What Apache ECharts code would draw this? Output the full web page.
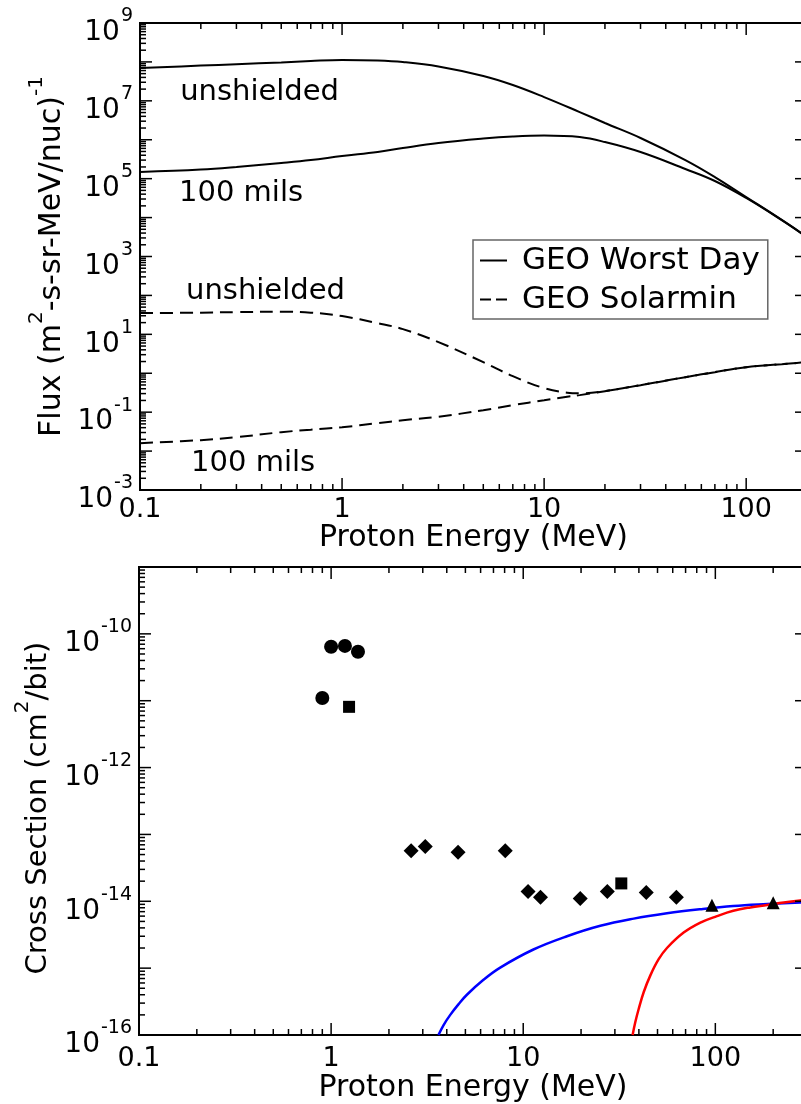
<!DOCTYPE html>
<html><head><meta charset="utf-8">
<script src="https://cdn.jsdelivr.net/npm/echarts@6/dist/echarts.min.js"></script>
<style>html,body{margin:0;padding:0;background:#fff}#c{width:801px;height:1104px}</style>
</head><body><div id="c"></div>
<script>
// ---------- Top panel: flux spectra ----------
const worstEnergy      = [0.1, 0.2, 0.3, 0.5, 0.7, 1, 1.5, 2, 3, 5, 7, 10, 15, 20, 30, 50, 70, 100, 150, 200];
const worstUnshielded  = [6.97e7, 8.04e7, 8.73e7, 9.7e7, 1.054e8, 1.12e8, 1.086e8, 9.93e7, 7.62e7, 4.35e7, 2.55e7, 1.25e7, 5.15e6, 2.69e6, 1.11e6, 3.0e5, 1.1e5, 3.37e4, 8.7e3, 3.16e3];
const worst100mils     = [1.48e5, 1.71e5, 1.99e5, 2.52e5, 3.0e5, 3.81e5, 4.83e5, 6.12e5, 8.23e5, 1.07e6, 1.21e6, 1.28e6, 1.17e6, 8.73e5, 4.83e5, 1.77e5, 8.7e4, 3.2e4, 8.6e3, 3.16e3];

const solarEnergy      = [0.1, 0.2, 0.3, 0.5, 0.7, 1, 1.5, 2, 3, 5, 7, 10, 13, 15, 20, 30, 50, 70, 100, 150, 200];
const solarUnshielded  = [35.1, 36.1, 37.2, 38.3, 36.1, 29.4, 19.4, 13.6, 6.31, 1.93, 0.84, 0.414, 0.317, 0.305, 0.347, 0.494, 0.794, 1.067, 1.435, 1.71, 1.93];
const solar100mils     = [0.01596, 0.0191, 0.0228, 0.0306, 0.0355, 0.0411, 0.0521, 0.0622, 0.0766, 0.1125, 0.151, 0.203, 0.25, 0.274, 0.347, 0.494, 0.794, 1.067, 1.435, 1.71, 1.93];

const annotX    = [0.158, 0.156, 0.169, 0.179];
const annotY    = [1.68e7, 4.27e4, 129, 0.0049];
const annotText = ['unshielded', '100 mils', 'unshielded', '100 mils'];

const topXLabels = [0.1, 1, 10, 100];
const topXText   = ['0.1', '1', '10', '100'];
const topYLabels = [1e-3, 1e-1, 1e1, 1e3, 1e5, 1e7, 1e9];
const topYExp    = ['-3', '-1', '1', '3', '5', '7', '9'];

// ---------- Bottom panel: cross sections ----------
const circleE   = [0.90, 1.0, 1.18, 1.38];
const circleXS  = [1.1e-11, 6.4e-11, 6.6e-11, 5.4e-11];
const squareE   = [1.24, 32.4];
const squareXS  = [8.1e-12, 1.85e-14];
const diamondE  = [2.61, 3.09, 4.58, 8.06, 10.6, 12.3, 19.8, 27.4, 43.7, 62.7];
const diamondXS = [5.7e-14, 6.6e-14, 5.4e-14, 5.7e-14, 1.4e-14, 1.15e-14, 1.1e-14, 1.4e-14, 1.35e-14, 1.15e-14];
const triE      = [96, 200];
const triXS     = [8.7e-15, 9.5e-15];

const blueE  = [3.62, 3.85, 4.17, 4.61, 5.09, 6.21, 7.59, 11.3, 16.9, 25.2, 37.6, 56, 83.6, 124, 186, 277, 300];
const blueXS = [1e-16, 1.41e-16, 2.0e-16, 2.9e-16, 4.0e-16, 6.7e-16, 1.02e-15, 1.9e-15, 3.0e-15, 4.3e-15, 5.5e-15, 6.6e-15, 7.6e-15, 8.5e-15, 9.1e-15, 9.6e-15, 9.7e-15];
const redE   = [37.1, 38.3, 39.9, 42.4, 45.9, 50.7, 56, 68.4, 83.6, 102, 124, 152, 186, 227, 277, 300];
const redXS  = [1e-16, 1.55e-16, 2.45e-16, 4.4e-16, 7.8e-16, 1.36e-15, 2.0e-15, 3.4e-15, 4.8e-15, 6.0e-15, 7.2e-15, 8.1e-15, 8.8e-15, 9.6e-15, 1.03e-14, 1.05e-14];

const botXLabels = [0.1, 1, 10, 100];
const botXText   = ['0.1', '1', '10', '100'];
const botYLabels = [1e-16, 1e-14, 1e-12, 1e-10];
const botYExp    = ['-16', '-14', '-12', '-10'];

// ---------- helpers ----------
const FONT = 'DejaVu Sans';
const pairs = (xs, ys) => xs.map((x, i) => [x, ys[i]]);

const ranges = [
  {xMin: 0.1, xMax: 200, yMin: 1e-3, yMax: 1e9},
  {xMin: 0.1, xMax: 300, yMin: 1e-16, yMax: 1e-9}
];

function decadeTicks(lo, hi) {
  const out = [];
  const k0 = Math.floor(Math.log10(lo) + 1e-9), k1 = Math.ceil(Math.log10(hi) - 1e-9);
  for (let k = k0; k <= k1; k++) {
    for (let m = 1; m <= 9; m++) {
      const v = m * Math.pow(10, k);
      if (v >= lo * 0.9999 && v <= hi * 1.0001) out.push([v, m === 1 ? 1 : 0]);
    }
  }
  return out;
}

function tickLine(x1, y1, x2, y2) {
  return {type: 'line', shape: {x1, y1, x2, y2}, style: {stroke: '#000', lineWidth: 1.5}};
}

function xTickSeries(g) {
  const r = ranges[g];
  return {
    type: 'custom', xAxisIndex: g, yAxisIndex: g, silent: true, clip: false, z: 5,
    dimensions: ['x', 'y', 'major'], encode: {x: 0, y: 1},
    data: decadeTicks(r.xMin, r.xMax).map(t => [t[0], r.yMin, t[1]]),
    renderItem: (params, api) => {
      const v = api.value(0), L = api.value(2) ? 12 : 6;
      const b = api.coord([v, r.yMin]), t = api.coord([v, r.yMax]);
      return {type: 'group', children: [tickLine(b[0], b[1], b[0], b[1] - L), tickLine(t[0], t[1], t[0], t[1] + L)]};
    }
  };
}
function yTickSeries(g) {
  const r = ranges[g];
  return {
    type: 'custom', xAxisIndex: g, yAxisIndex: g, silent: true, clip: false, z: 5,
    dimensions: ['x', 'y', 'major'], encode: {x: 0, y: 1},
    data: decadeTicks(r.yMin, r.yMax).map(t => [r.xMin, t[0], t[1]]),
    renderItem: (params, api) => {
      const v = api.value(1), L = api.value(2) ? 12 : 6;
      const a = api.coord([r.xMin, v]), b = api.coord([r.xMax, v]);
      return {type: 'group', children: [tickLine(a[0], a[1], a[0] + L, a[1]), tickLine(b[0], b[1], b[0] - L, b[1])]};
    }
  };
}
function xLabelSeries(g, vals, texts, dy) {
  const r = ranges[g];
  return {
    type: 'custom', xAxisIndex: g, yAxisIndex: g, silent: true, clip: false, z: 5,
    encode: {x: 0, y: 1},
    data: vals.map(v => [v, r.yMin]),
    renderItem: (params, api) => {
      const p = api.coord([api.value(0), r.yMin]);
      return {type: 'text', x: p[0], y: p[1] + dy, style: {
        text: texts[params.dataIndex], fill: '#000', fontFamily: FONT, fontSize: 27, lineHeight: 27,
        align: 'center', verticalAlign: 'top'}};
    }
  };
}
const powRich = {
  b: {fontFamily: FONT, fontSize: 28, lineHeight: 40, verticalAlign: 'bottom', fill: '#000', color: '#000'},
  s: {fontFamily: FONT, fontSize: 19, lineHeight: 19, verticalAlign: 'top', padding: [0, 0, 0, 1], fill: '#000', color: '#000'}
};
function yLabelSeries(g, vals, exps) {
  const r = ranges[g];
  return {
    type: 'custom', xAxisIndex: g, yAxisIndex: g, silent: true, clip: false, z: 5,
    encode: {x: 0, y: 1},
    data: vals.map(v => [r.xMin, v]),
    renderItem: (params, api) => {
      const p = api.coord([r.xMin, api.value(1)]);
      return {type: 'text', x: p[0] - 7, y: p[1] + 4, style: {
        text: '{b|10}{s|' + exps[params.dataIndex] + '}', rich: powRich, fill: '#000',
        align: 'right', verticalAlign: 'middle'}};
    }
  };
}

const nameRich = {
  t: {fontFamily: FONT, fontSize: 30, lineHeight: 40, verticalAlign: 'bottom', color: '#000'},
  s: {fontFamily: FONT, fontSize: 20, lineHeight: 20, verticalAlign: 'top', color: '#000'}
};
const nameRich2 = {
  t: {fontFamily: FONT, fontSize: 29, lineHeight: 40, verticalAlign: 'bottom', color: '#000'},
  s: {fontFamily: FONT, fontSize: 20, lineHeight: 20, verticalAlign: 'top', color: '#000'}
};

function logAxis(g, min, max, extra) {
  return Object.assign({
    type: 'log', logBase: 10, gridIndex: g, min, max,
    axisLine: {show: false}, axisTick: {show: false}, axisLabel: {show: false},
    splitLine: {show: false}, minorTick: {show: false}, minorSplitLine: {show: false}
  }, extra);
}

const black = '#000';
const lineBase = {type: 'line', symbol: 'none', smooth: 0.4, xAxisIndex: 0, yAxisIndex: 0, z: 3};

const option = {
  animation: false,
  backgroundColor: '#fff',
  grid: [
    {left: 140, top: 23, right: -6, height: 467, show: true, borderColor: '#000', borderWidth: 2, backgroundColor: 'transparent', outerBoundsMode: 'none', containLabel: false},
    {left: 139, top: 567, right: -6, height: 468, show: true, borderColor: '#000', borderWidth: 2, backgroundColor: 'transparent', outerBoundsMode: 'none', containLabel: false}
  ],
  xAxis: [
    logAxis(0, 0.1, 200, {name: 'Proton Energy (MeV)', nameLocation: 'middle', nameGap: 33,
      nameTextStyle: {fontFamily: FONT, fontSize: 30, lineHeight: 30, color: '#000'}}),
    logAxis(1, 0.1, 300, {name: 'Proton Energy (MeV)', nameLocation: 'middle', nameGap: 38,
      nameTextStyle: {fontFamily: FONT, fontSize: 30, lineHeight: 30, color: '#000'}})
  ],
  yAxis: [
    logAxis(0, 1e-3, 1e9, {name: '{t|Flux (m}{s|2}{t|-s-sr-MeV/nuc)}{s|-1}', nameLocation: 'middle', nameRotate: 90, nameGap: 73,
      nameTextStyle: {rich: nameRich, color: '#000'}}),
    logAxis(1, 1e-16, 1e-9, {name: '{t|Cross Section (cm}{s|2}{t|/bit)}', nameLocation: 'middle', nameRotate: 90, nameGap: 86,
      nameTextStyle: {rich: nameRich2, color: '#000', padding: [0, 14, 0, 0]}})
  ],
  legend: {
    data: [
      {name: 'GEO Worst Day', icon: 'path://M0,0h27v2h-27z'},
      {name: 'GEO Solarmin', icon: 'path://M0,0h11v2h-11zM16,0h11v2h-11z'}
    ],
    orient: 'vertical', left: 473, top: 240,
    itemWidth: 27, itemHeight: 2, itemGap: 8,
    padding: [5, 8, 4, 7],
    backgroundColor: '#fff', borderColor: '#666', borderWidth: 1.5, borderRadius: 0,
    selectedMode: false,
    itemStyle: {color: '#000', borderWidth: 0},
    textStyle: {fontFamily: FONT, fontSize: 31, lineHeight: 30, color: '#000', padding: [0, 0, 0, 10]}
  },
  series: [
    Object.assign({}, lineBase, {name: 'GEO Worst Day', data: pairs(worstEnergy, worstUnshielded), lineStyle: {color: black, width: 2}, itemStyle: {color: black}}),
    Object.assign({}, lineBase, {name: 'GEO Worst Day', data: pairs(worstEnergy, worst100mils), lineStyle: {color: black, width: 2}, itemStyle: {color: black}}),
    Object.assign({}, lineBase, {name: 'GEO Solarmin', data: pairs(solarEnergy, solarUnshielded), lineStyle: {color: black, width: 2, type: [13, 7]}, itemStyle: {color: black}}),
    Object.assign({}, lineBase, {name: 'GEO Solarmin', data: pairs(solarEnergy, solar100mils), lineStyle: {color: black, width: 2, type: [13, 7]}, itemStyle: {color: black}}),
    {
      name: 'annotations', type: 'scatter', xAxisIndex: 0, yAxisIndex: 0, symbolSize: 0, silent: true, z: 4,
      itemStyle: {opacity: 1},
      data: pairs(annotX, annotY),
      label: {show: true, position: 'right', distance: 0, formatter: p => annotText[p.dataIndex],
        fontFamily: FONT, fontSize: 29, color: '#000', opacity: 1, textBorderWidth: 0}
    },
    xTickSeries(0), yTickSeries(0),
    xLabelSeries(0, topXLabels, topXText, 6),
    yLabelSeries(0, topYLabels, topYExp),

    {name: 'circles', type: 'scatter', xAxisIndex: 1, yAxisIndex: 1, symbol: 'circle', symbolSize: 14, itemStyle: {color: black, opacity: 1}, data: pairs(circleE, circleXS), z: 4},
    {name: 'squares', type: 'scatter', xAxisIndex: 1, yAxisIndex: 1, symbol: 'rect', symbolSize: 12, itemStyle: {color: black, opacity: 1}, data: pairs(squareE, squareXS), z: 4},
    {name: 'diamonds', type: 'scatter', xAxisIndex: 1, yAxisIndex: 1, symbol: 'diamond', symbolSize: 15, itemStyle: {color: black, opacity: 1}, data: pairs(diamondE, diamondXS), z: 4},
    {name: 'triangles', type: 'scatter', xAxisIndex: 1, yAxisIndex: 1, symbol: 'triangle', symbolSize: 13, itemStyle: {color: black, opacity: 1}, data: pairs(triE, triXS), z: 4},
    {name: 'blue fit', type: 'line', xAxisIndex: 1, yAxisIndex: 1, symbol: 'none', smooth: 0.4, data: pairs(blueE, blueXS), lineStyle: {color: '#0000ff', width: 2.5}, z: 3},
    {name: 'red fit', type: 'line', xAxisIndex: 1, yAxisIndex: 1, symbol: 'none', smooth: 0.4, data: pairs(redE, redXS), lineStyle: {color: '#ff0000', width: 2.5}, z: 3},
    xTickSeries(1), yTickSeries(1),
    xLabelSeries(1, botXLabels, botXText, 10),
    yLabelSeries(1, botYLabels, botYExp)
  ]
};

const chart = echarts.init(document.getElementById('c'), null, {renderer: 'canvas'});
chart.setOption(option);
</script>
</body></html>
